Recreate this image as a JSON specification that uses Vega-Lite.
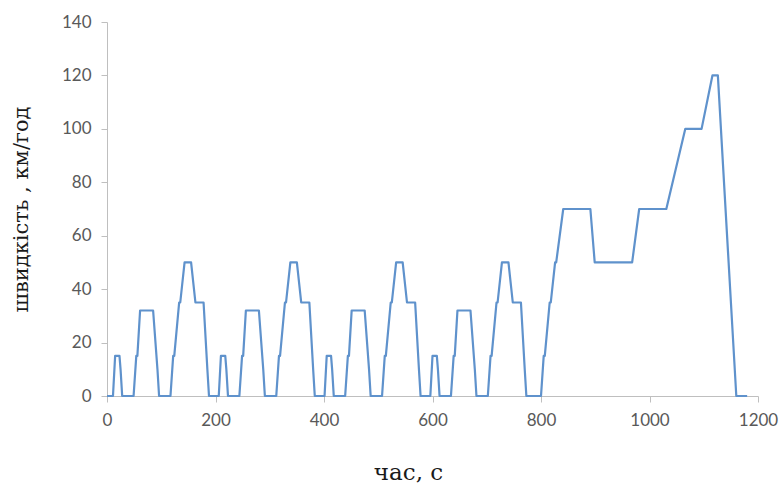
{
  "$schema": "https://vega.github.io/schema/vega-lite/v6.json",
  "width": 651,
  "height": 374,
  "autosize": "none",
  "padding": {"left": 107, "top": 22, "right": 23, "bottom": 92},
  "background": "white",
  "config": {"view": {"stroke": null}},
  "data": {"values": [
    {"t":0,"v":0},{"t":11,"v":0},{"t":15,"v":15},{"t":23,"v":15},{"t":25,"v":10},{"t":28,"v":0},{"t":49,"v":0},{"t":54,"v":15},{"t":56,"v":15},{"t":61,"v":32},{"t":85,"v":32},{"t":93,"v":10},{"t":96,"v":0},{"t":117,"v":0},{"t":122,"v":15},{"t":124,"v":15},{"t":133,"v":35},{"t":135,"v":35},{"t":143,"v":50},{"t":155,"v":50},{"t":163,"v":35},{"t":176,"v":35},{"t":178,"v":35},{"t":185,"v":10},{"t":188,"v":0},
    {"t":195,"v":0},{"t":206,"v":0},{"t":210,"v":15},{"t":218,"v":15},{"t":220,"v":10},{"t":223,"v":0},{"t":244,"v":0},{"t":249,"v":15},{"t":251,"v":15},{"t":256,"v":32},{"t":280,"v":32},{"t":288,"v":10},{"t":291,"v":0},{"t":312,"v":0},{"t":317,"v":15},{"t":319,"v":15},{"t":328,"v":35},{"t":330,"v":35},{"t":338,"v":50},{"t":350,"v":50},{"t":358,"v":35},{"t":371,"v":35},{"t":373,"v":35},{"t":380,"v":10},{"t":383,"v":0},
    {"t":390,"v":0},{"t":401,"v":0},{"t":405,"v":15},{"t":413,"v":15},{"t":415,"v":10},{"t":418,"v":0},{"t":439,"v":0},{"t":444,"v":15},{"t":446,"v":15},{"t":451,"v":32},{"t":475,"v":32},{"t":483,"v":10},{"t":486,"v":0},{"t":507,"v":0},{"t":512,"v":15},{"t":514,"v":15},{"t":523,"v":35},{"t":525,"v":35},{"t":533,"v":50},{"t":545,"v":50},{"t":553,"v":35},{"t":566,"v":35},{"t":568,"v":35},{"t":575,"v":10},{"t":578,"v":0},
    {"t":585,"v":0},{"t":596,"v":0},{"t":600,"v":15},{"t":608,"v":15},{"t":610,"v":10},{"t":613,"v":0},{"t":634,"v":0},{"t":639,"v":15},{"t":641,"v":15},{"t":646,"v":32},{"t":670,"v":32},{"t":678,"v":10},{"t":681,"v":0},{"t":702,"v":0},{"t":707,"v":15},{"t":709,"v":15},{"t":718,"v":35},{"t":720,"v":35},{"t":728,"v":50},{"t":740,"v":50},{"t":748,"v":35},{"t":761,"v":35},{"t":763,"v":35},{"t":770,"v":10},{"t":773,"v":0},
    {"t":780,"v":0},{"t":800,"v":0},{"t":805,"v":15},{"t":807,"v":15},{"t":816,"v":35},{"t":818,"v":35},{"t":826,"v":50},{"t":828,"v":50},{"t":841,"v":70},{"t":891,"v":70},{"t":899,"v":50},{"t":968,"v":50},{"t":981,"v":70},{"t":1031,"v":70},{"t":1066,"v":100},{"t":1096,"v":100},{"t":1116,"v":120},{"t":1126,"v":120},{"t":1160,"v":0},{"t":1180,"v":0}
  ]},
  "mark": {"type": "line", "color": "#5f92cc", "strokeWidth": 2.2, "strokeJoin": "round"},
  "encoding": {
    "x": {
      "field": "t", "type": "quantitative",
      "scale": {"domain": [0, 1200], "nice": false, "zero": false},
      "axis": {
        "values": [0, 200, 400, 600, 800, 1000, 1200],
        "format": "d", "labelFlush": false, "labelOverlap": false,
        "grid": false, "domainColor": "#bfbfbf", "tickColor": "#bfbfbf", "tickSize": 6,
        "labelFont": "Lato", "labelFontSize": 17, "labelColor": "#595959", "labelPadding": 10,
        "title": "час, с", "titleFont": "DejaVu Serif", "titleFontWeight": "normal", "titleFontSize": 23,
        "titleColor": "#1a1a1a", "titlePadding": 33, "titleX": 301
      }
    },
    "y": {
      "field": "v", "type": "quantitative",
      "scale": {"domain": [0, 140], "nice": false},
      "axis": {
        "values": [0, 20, 40, 60, 80, 100, 120, 140],
        "labelFlush": false,
        "grid": false, "domainColor": "#bfbfbf", "tickColor": "#bfbfbf", "tickSize": 6,
        "labelFont": "Lato", "labelFontSize": 17, "labelColor": "#595959", "labelPadding": 10,
        "title": "швидкість , км/год", "titleFont": "DejaVu Serif", "titleFontWeight": "normal", "titleFontSize": 21,
        "titleColor": "#1a1a1a", "titlePadding": 30
      }
    }
  }
}
